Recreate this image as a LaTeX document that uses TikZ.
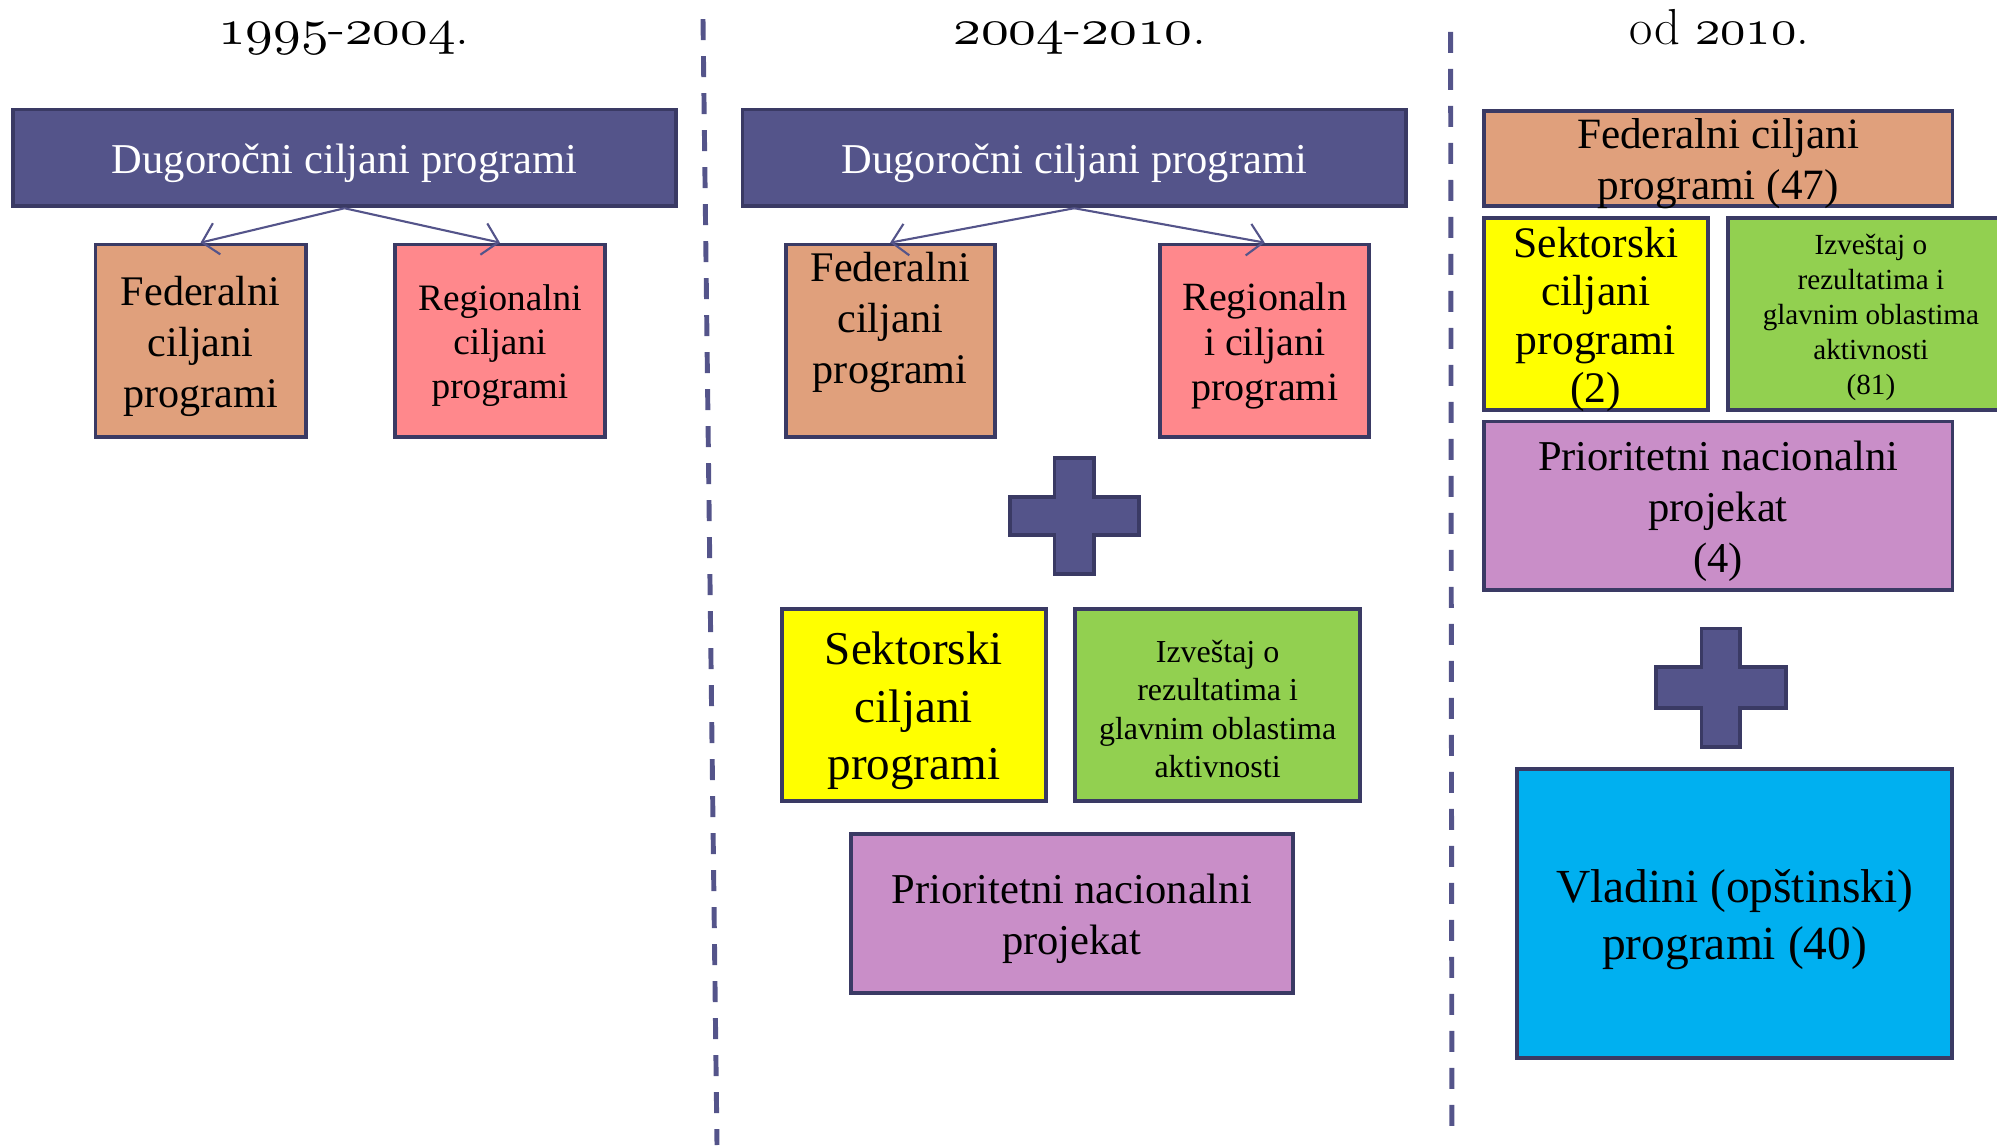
\documentclass[tikz,border=0pt]{standalone}
\usepackage{fontspec}
\setmainfont{Liberation Serif}
\newfontfamily\yearfont{Latin Modern Roman}
\usetikzlibrary{arrows.meta}

\DeclareFontFamily{OML}{oscmm}{\skewchar\font=127}
\DeclareFontShape{OML}{oscmm}{m}{it}{<-> cmmi10}{}
\newcommand\osnum[1]{{\fontencoding{OML}\fontfamily{oscmm}\fontseries{m}\fontshape{it}\selectfont #1}}
\newcommand\tl{\rule{0pt}{0.95em}}

\definecolor{dugfill}{RGB}{84,84,138}
\definecolor{boxline}{RGB}{58,58,100}
\definecolor{fedfill}{RGB}{224,160,124}
\definecolor{regfill}{RGB}{255,136,140}
\definecolor{sekfill}{RGB}{255,255,0}
\definecolor{izvfill}{RGB}{146,208,80}
\definecolor{prifill}{RGB}{201,142,200}
\definecolor{vlafill}{RGB}{0,176,240}

\tikzstyle{box}=[draw=boxline, line width=1.1pt, inner sep=0pt, align=center]
\tikzstyle{dugbox}=[box, fill=dugfill, text=white, minimum width=6.635cm, minimum height=0.968cm, font={\fontsize{12.1}{14.5}\selectfont}]
\tikzstyle{title}=[anchor=base, font={\yearfont\fontsize{14.4}{16}\selectfont}]
\tikzstyle{link}=[draw=dugfill, line width=0.6pt, -{Straight Barb[length=1.5mm,width=3.2mm]}]
\tikzstyle{divider}=[draw=dugfill, line width=1.4pt, dash pattern=on 0.21cm off 0.16cm]
\tikzstyle{plussign}=[draw=boxline, fill=dugfill, line width=1.1pt]

\begin{document}
\begin{tikzpicture}
  \useasboundingbox (0,0) rectangle (19.97,11.45);

  % 1995-2004.
  \node[title] (T1) at (3.439,11.0) {\scalebox{1.09}[1]{\osnum{1995}-\osnum{2004}.}};
  \node[dugbox] (D1) at (3.445,9.871) {\tl Dugoročni ciljani programi};
  \node[box, fill=fedfill, minimum width=2.101cm, minimum height=1.923cm, font={\fontsize{12}{14.5}\selectfont}] (F1) at (2.006,8.043) {\tl Federalni\\ciljani\\programi};
  \node[box, fill=regfill, minimum width=2.101cm, minimum height=1.923cm, font={\fontsize{10.6}{12.6}\selectfont}] (R1) at (4.999,8.043) {\tl Regionalni\\ciljani\\programi};
  \draw[link] (D1.south) -- (F1.north);
  \draw[link] (D1.south) -- (R1.north);

  \draw[divider] (7.030,11.259) -- (7.170,0);

  % 2004-2010.
  \node[title] (T2) at (10.800,11.0) {\scalebox{1.1}[1]{\osnum{2004}-\osnum{2010}.}};
  \node[dugbox] (D2) at (10.743,9.871) {\tl Dugoročni ciljani programi};
  \node[box, fill=fedfill, minimum width=2.089cm, minimum height=1.923cm] (F2) at (8.902,8.043) {};
  \node[font={\fontsize{12}{14.5}\selectfont}, align=center] (F2text) at ([yshift=0.18cm]F2.center) {Federalni\\ciljani\\programi};
  \node[box, fill=regfill, minimum width=2.089cm, minimum height=1.923cm, font={\fontsize{11.4}{12.8}\selectfont}] (R2) at (12.647,8.043) {\tl Regionaln\\i ciljani\\programi};
  \draw[link] (D2.south) -- (F2.north);
  \draw[link] (D2.south) -- (R2.north);

  \draw[plussign, shift={(10.743,6.292)}] (-0.198,0.580) -- (0.198,0.580) -- (0.198,0.191) -- (0.643,0.191)
    -- (0.643,-0.191) -- (0.198,-0.191) -- (0.198,-0.580) -- (-0.198,-0.580) -- (-0.198,-0.191)
    -- (-0.643,-0.191) -- (-0.643,0.191) -- (-0.198,0.191) -- cycle;

  \node[box, fill=sekfill, minimum width=2.636cm, minimum height=1.923cm, font={\fontsize{13.4}{16.3}\selectfont}] (S2) at (9.138,4.401) {\tl Sektorski\\ciljani\\programi};
  \node[box, fill=izvfill, minimum width=2.853cm, minimum height=1.923cm, font={\fontsize{9.1}{10.9}\selectfont}] (I2) at (12.176,4.401) {\tl Izveštaj o\\rezultatima i\\glavnim oblastima\\aktivnosti};
  \node[box, fill=prifill, minimum width=4.419cm, minimum height=1.592cm, font={\fontsize{12.1}{14.5}\selectfont}] (P2) at (10.717,2.312) {\tl Prioritetni nacionalni\\projekat};

  \draw[divider] (14.506,11.132) -- (14.519,0.115);

  % od 2010.
  \node[title] (T3) at (17.194,11.0) {od \osnum{2010}.};
  \node[box, fill=fedfill, inner ysep=-0.05cm, minimum width=4.687cm, minimum height=0.955cm, font={\fontsize{12.3}{14.5}\selectfont}] (F3) at (17.181,9.864) {\tl Federalni ciljani\\programi (47)};
  \node[box, fill=sekfill, inner ysep=-0.05cm, minimum width=2.242cm, minimum height=1.923cm, font={\fontsize{12.4}{13.8}\selectfont}] (S3) at (15.958,8.311) {\tl Sektorski\\ciljani\\programi\\(2)};
  \node[box, fill=izvfill, minimum width=2.853cm, minimum height=1.923cm, font={\fontsize{8.3}{10}\selectfont}] (I3) at (18.709,8.311) {\tl Izveštaj o\\rezultatima i\\glavnim oblastima\\aktivnosti\\(81)};
  \node[box, fill=prifill, minimum width=4.687cm, minimum height=1.681cm, font={\fontsize{12.1}{14.5}\selectfont}] (P3) at (17.181,6.394) {\tl Prioritetni nacionalni\\projekat\\(4)};

  \draw[plussign, shift={(17.206,4.573)}] (-0.191,0.592) -- (0.191,0.592) -- (0.191,0.204) -- (0.650,0.204)
    -- (0.650,-0.204) -- (0.191,-0.204) -- (0.191,-0.592) -- (-0.191,-0.592) -- (-0.191,-0.204)
    -- (-0.650,-0.204) -- (-0.650,0.204) -- (-0.191,0.204) -- cycle;

  \node[box, fill=vlafill, minimum width=4.356cm, minimum height=2.891cm, font={\fontsize{13.5}{16.3}\selectfont}] (V3) at (17.346,2.312) {\tl Vladini (opštinski)\\programi (40)};
\end{tikzpicture}
\end{document}
